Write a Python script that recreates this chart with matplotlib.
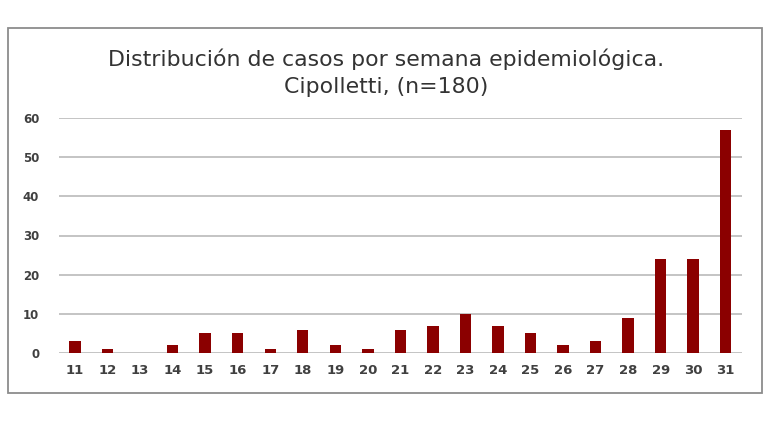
import matplotlib
matplotlib.use("Agg")
import matplotlib.pyplot as plt
from matplotlib.patches import Rectangle

semanas = ["11", "12", "13", "14", "15", "16", "17", "18", "19", "20", "21",
           "22", "23", "24", "25", "26", "27", "28", "29", "30", "31"]
casos = [3, 1, 0, 2, 5, 5, 1, 6, 2, 1, 6, 7, 10, 7, 5, 2, 3, 9, 24, 24, 57]
yticks = [0, 10, 20, 30, 40, 50, 60]
titulo = "Distribución de casos por semana epidemiológica.\nCipolletti, (n=180)"

W, H = 770, 422
fig = plt.figure(figsize=(W / 100, H / 100), dpi=100)
fig.patch.set_facecolor("white")

# outer border box
fig.patches.append(Rectangle((8 / W, 1 - 393 / H), (762 - 8) / W, (393 - 28) / H,
                             transform=fig.transFigure, fill=False,
                             edgecolor="#8c8c8c", linewidth=1.3))

ax = fig.add_axes([58.7 / W, 1 - 353 / H, (742 - 58.7) / W, (353 - 118) / H])
x = list(range(len(semanas)))
ax.bar(x, casos, width=0.35, color="#8b0000", zorder=3)
ax.set_xlim(-0.5, len(semanas) - 0.5)
ax.set_ylim(0, 60)
ax.set_yticks(yticks)
ax.set_xticks(x)
ax.set_xticklabels(semanas)
ax.grid(axis="y", color="#bfbfbf", linewidth=1.3, zorder=0)
for s in ax.spines.values():
    s.set_visible(False)
ax.tick_params(axis="both", length=0, colors="#404040")
for lab in ax.get_yticklabels():
    lab.set_fontsize(8.5)
    lab.set_fontweight("bold")
    lab.set_family("DejaVu Sans")
for lab in ax.get_xticklabels():
    lab.set_fontsize(9.5)
    lab.set_fontweight("bold")
    lab.set_family("DejaVu Sans")
ax.tick_params(axis="y", pad=14)
ax.tick_params(axis="x", pad=8)

fig.text(386 / W, 1 - 73 / H, titulo, ha="center", va="center",
         fontsize=15.8, color="#333333", family="DejaVu Sans", linespacing=1.45)

fig.savefig("out.png", dpi=100)
